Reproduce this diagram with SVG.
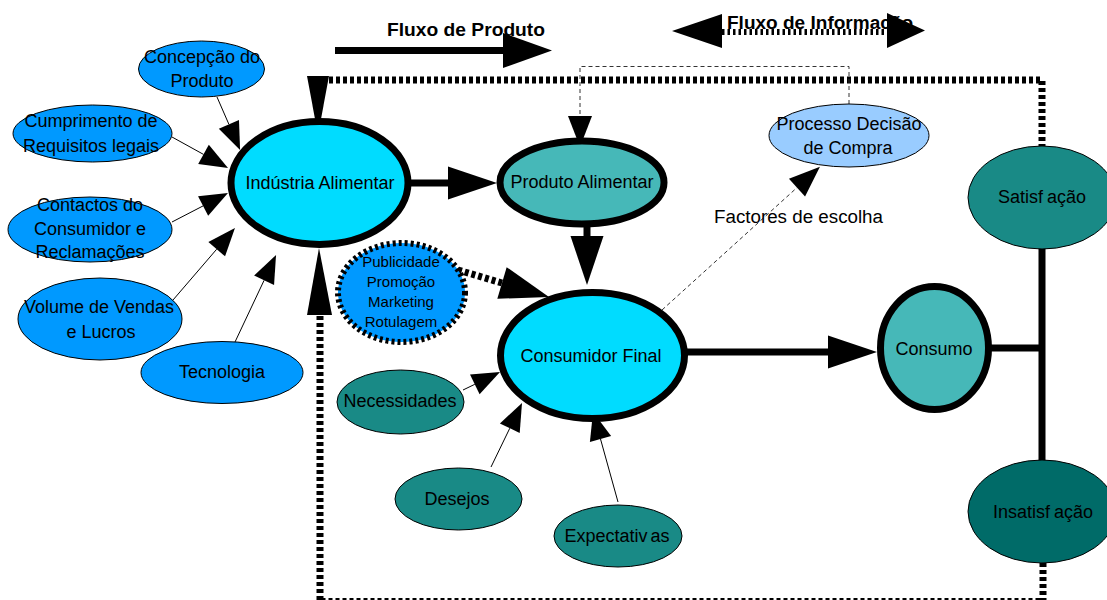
<svg xmlns="http://www.w3.org/2000/svg" width="1107" height="600" viewBox="0 0 1107 600">
  <style>
    text { font-family: "Liberation Sans", Arial, sans-serif; font-size: 18px; fill: #000; }
    .t { text-anchor: middle; }
    .small { font-size: 15px; }
    .title { font-weight: bold; }
    .blue { fill: #0099ff; stroke: #000; stroke-width: 1; }
    .cyan { fill: #00dcff; stroke: #000; stroke-width: 7; }
    .teal { fill: #46b8b8; stroke: #000; stroke-width: 7; }
    .dteal { fill: #198a86; stroke: #000; stroke-width: 1; }
    .xteal { fill: #006b68; stroke: #000; stroke-width: 1; }
    .pale { fill: #99ccff; stroke: #000; stroke-width: 1; }
    .thin { fill: none; stroke: #000; stroke-width: 1; }
    .dash { fill: none; stroke: #333; stroke-width: 1; stroke-dasharray: 4 3; }
    .thick { fill: none; stroke: #000; stroke-width: 7; }
    .loop { fill: none; stroke: #000; stroke-width: 7; stroke-dasharray: 4 3; }
    .head { fill: #000; stroke: none; }
  </style>
  <defs>
    <!-- arrowheads start at the end of the line and point forward -->
    <marker id="thinHead" markerUnits="userSpaceOnUse" orient="auto" refX="0" refY="0" markerWidth="40" markerHeight="30" overflow="visible">
      <path d="M0,-11 L28,0 L0,11 Z" fill="#000"/>
    </marker>
    <marker id="dashHead" markerUnits="userSpaceOnUse" orient="auto" refX="0" refY="0" markerWidth="40" markerHeight="30" overflow="visible">
      <path d="M0,-12 L31,0 L0,12 Z" fill="#000"/>
    </marker>
    <marker id="bigHead" markerUnits="userSpaceOnUse" orient="auto" refX="0" refY="0" markerWidth="60" markerHeight="40" overflow="visible">
      <path d="M0,-16.5 L49,0 L0,16.5 Z" fill="#000"/>
    </marker>
  </defs>

  <!-- flow legends -->
  <g id="legend-produto">
    <text class="title" x="387" y="36" textLength="158" lengthAdjust="spacingAndGlyphs">Fluxo de Produto</text>
    <path class="thick" d="M335,50.5 H503"/>
    <polygon class="head" points="503,33 552,50.5 503,68"/>
  </g>
  <g id="legend-informacao">
    <text class="title" x="727" y="29" textLength="186" lengthAdjust="spacingAndGlyphs">Fluxo de Informação</text>
    <path d="M722,32 H887" stroke="#fff" stroke-width="6" fill="none"/>
    <path d="M722,32 H887" stroke="#000" stroke-width="6" stroke-dasharray="2.5 3" fill="none"/>
    <polygon class="head" points="672,31 722,14 722,48"/>
    <polygon class="head" points="887,13 925,30.5 887,48"/>
  </g>

  <!-- connectors -->
  <g id="connectors">
    <!-- feedback loop -->
    <path class="loop" d="M329,80 H1042 V146"/>
    <polygon class="head" points="307,76 329,76 318,135"/>
    <path class="loop" d="M1043,563 V601.5 H320 V315"/>
    <polygon class="head" points="307,315 332,315 319,248"/>

    <!-- influences on the food industry -->
    <path class="thin" marker-end="url(#thinHead)" d="M217,97 L228.9,124.3"/>
    <path class="thin" marker-end="url(#thinHead)" d="M172,137 L203.5,154.4"/>
    <path class="thin" marker-end="url(#thinHead)" d="M172,222 L203.1,205.9"/>
    <path class="thin" marker-end="url(#thinHead)" d="M173,300 L216.7,249.2"/>
    <path class="thin" marker-end="url(#thinHead)" d="M235,342 L264.1,280.3"/>

    <!-- product chain -->
    <path class="thick" marker-end="url(#bigHead)" d="M408,183 H448"/>
    <path class="thick" marker-end="url(#bigHead)" d="M587,225 V236"/>
    <path class="loop" marker-end="url(#bigHead)" d="M458,270 L502,283"/>
    <path class="thick" marker-end="url(#bigHead)" d="M686,352 H828"/>
    <path class="thick" d="M990,348 H1042"/>
    <path class="thick" d="M1042,248 V461"/>

    <!-- influences on the consumer -->
    <path class="thin" marker-end="url(#thinHead)" d="M463,390 L474.8,384.3"/>
    <path class="thin" marker-end="url(#thinHead)" d="M491,467 L509.8,428.2"/>
    <path class="thin" marker-end="url(#thinHead)" d="M618,502 L600.5,439"/>

    <!-- information flow -->
    <path class="dash" marker-end="url(#dashHead)" d="M662,310 L797,187.6"/>
    <path class="dash" marker-end="url(#dashHead)" d="M849,104 V66.5 H580 V116"/>
    <text x="714" y="223" textLength="169" lengthAdjust="spacingAndGlyphs">Factores de escolha</text>
  </g>

  <!-- nodes -->
  <g id="concepcao">
    <ellipse class="blue" cx="201.5" cy="69" rx="63" ry="28"/>
    <text class="t" x="202" y="63">Concepção do</text>
    <text class="t" x="202" y="87">Produto</text>
  </g>
  <g id="requisitos">
    <ellipse class="blue" cx="92.5" cy="133.5" rx="79.5" ry="28.5"/>
    <text class="t" x="91" y="127">Cumprimento de</text>
    <text class="t" x="91" y="152">Requisitos legais</text>
  </g>
  <g id="contactos">
    <ellipse class="blue" cx="90" cy="229.5" rx="82" ry="32.5"/>
    <text class="t" x="90" y="211">Contactos do</text>
    <text class="t" x="90" y="235">Consumidor e</text>
    <text class="t" x="90" y="258">Reclamações</text>
  </g>
  <g id="vendas">
    <ellipse class="blue" cx="100" cy="319" rx="82" ry="41"/>
    <text class="t" x="99" y="313">Volume de Vendas</text>
    <text class="t" x="101" y="338">e Lucros</text>
  </g>
  <g id="tecnologia">
    <ellipse class="blue" cx="222" cy="372.5" rx="81" ry="31"/>
    <text class="t" x="222" y="378">Tecnologia</text>
  </g>
  <g id="industria">
    <ellipse class="cyan" cx="319.5" cy="183" rx="88.5" ry="61.5"/>
    <text class="t" x="320" y="189">Indústria Alimentar</text>
  </g>
  <g id="produto">
    <ellipse class="teal" cx="582" cy="182.5" rx="82" ry="41.5" stroke-width="6"/>
    <text class="t" x="582" y="188">Produto Alimentar</text>
  </g>
  <g id="publicidade">
    <ellipse cx="401.5" cy="292.5" rx="63.5" ry="49.5" fill="#0099ff" stroke="#000" stroke-width="6" stroke-dasharray="3 3"/>
    <text class="t small" x="401" y="267">Publicidade</text>
    <text class="t small" x="401" y="287">Promoção</text>
    <text class="t small" x="401" y="307">Marketing</text>
    <text class="t small" x="401" y="327">Rotulagem</text>
  </g>
  <g id="consumidor">
    <ellipse class="cyan" cx="592.5" cy="355.5" rx="92" ry="63"/>
    <text class="t" x="591" y="362">Consumidor Final</text>
  </g>
  <g id="necessidades">
    <ellipse class="dteal" cx="400.5" cy="402" rx="63.5" ry="32"/>
    <text class="t" x="400" y="407">Necessidades</text>
  </g>
  <g id="desejos">
    <ellipse class="dteal" cx="458.5" cy="499" rx="63.5" ry="31"/>
    <text class="t" x="457" y="505">Desejos</text>
  </g>
  <g id="expectativas">
    <ellipse class="dteal" cx="618" cy="536" rx="64" ry="31"/>
    <text class="t" x="617" y="542">Expectativ<tspan dx="3">as</tspan></text>
  </g>
  <g id="decisao">
    <ellipse class="pale" cx="849" cy="135.5" rx="80" ry="31.5"/>
    <text class="t" x="849" y="130">Processo Decisão</text>
    <text class="t" x="848" y="154">de Compra</text>
  </g>
  <g id="consumo">
    <ellipse class="teal" cx="934.5" cy="348" rx="54" ry="61.5"/>
    <text class="t" x="934" y="355">Consumo</text>
  </g>
  <g id="satisfacao">
    <ellipse class="dteal" cx="1042" cy="197.5" rx="74" ry="51.5"/>
    <text class="t" x="1042" y="203">Satisf<tspan dx="4">ação</tspan></text>
  </g>
  <g id="insatisfacao">
    <ellipse class="xteal" cx="1042" cy="511.5" rx="74" ry="51.5"/>
    <text class="t" x="1043" y="518">Insatisf<tspan dx="4">ação</tspan></text>
  </g>
</svg>
